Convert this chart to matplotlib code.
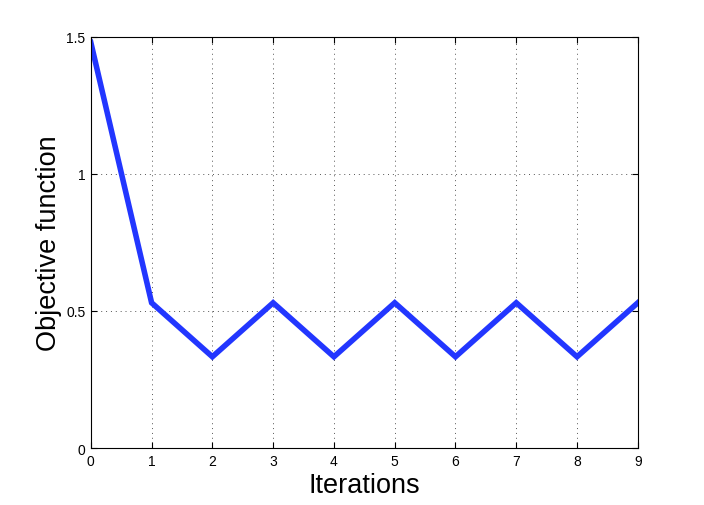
import matplotlib
matplotlib.use("Agg")
import matplotlib.pyplot as plt

plt.rcParams['font.family'] = ['Liberation Sans', 'DejaVu Sans']

# data
iterations = [0, 1, 2, 3, 4, 5, 6, 7, 8, 9]
objective = [1.48, 0.53, 0.333, 0.53, 0.333, 0.53, 0.333, 0.53, 0.333, 0.53]
xticks = [0, 1, 2, 3, 4, 5, 6, 7, 8, 9]
yticks = [0, 0.5, 1, 1.5]
yticklabels = ['0', '0.5', '1', '1.5']

fig = plt.figure(figsize=(7.04, 5.06), dpi=100)
ax = fig.add_axes([0.129, 0.1126, 0.777, 0.8124])
ax.plot(iterations, objective, color='#2236ff', linewidth=4, solid_joinstyle='miter')

ax.set_xlim(0, 9)
ax.set_ylim(0, 1.5)
ax.set_xticks(xticks)
ax.set_yticks(yticks)
ax.set_yticklabels(yticklabels)
ax.tick_params(direction='in', top=True, right=True, labelsize=10, length=4, width=0.8, pad=4)
ax.grid(True, linestyle=(0, (1, 4)), color='#555555', linewidth=0.7)
for s in ax.spines.values():
    s.set_linewidth(0.8)
ax.set_xlabel('Iterations', fontsize=19.5, labelpad=3)
ax.set_ylabel('Objective function', fontsize=19.5, labelpad=3)

fig.savefig('out.png', dpi=100)
